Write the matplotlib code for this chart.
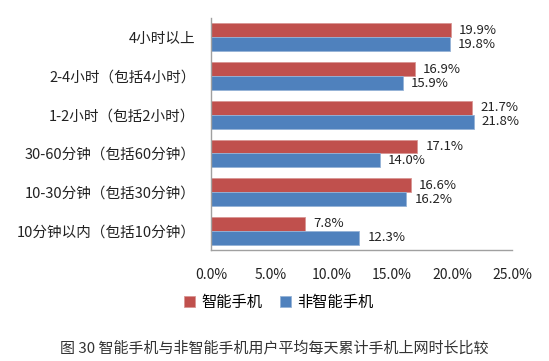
import numpy as np
import matplotlib.pyplot as plt

plt.rcParams['font.family'] = ['Noto Sans CJK SC', 'DejaVu Sans']

categories = ['4小时以上', '2-4小时（包括4小时）', '1-2小时（包括2小时）',
              '30-60分钟（包括60分钟）', '10-30分钟（包括30分钟）', '10分钟以内（包括10分钟）']
smart = [19.9, 16.9, 21.7, 17.1, 16.6, 7.8]
non_smart = [19.8, 15.9, 21.8, 14.0, 16.2, 12.3]
series_names = ['智能手机', '非智能手机']
xticks = [0, 5, 10, 15, 20, 25]

red = '#C0504D'
blue = '#4F81BD'

fig = plt.figure(figsize=(5.49, 3.61), dpi=100)
ax = fig.add_axes([0.384, 0.307, 0.549, 0.643])

y = np.arange(len(categories))
h = 0.36
b1 = ax.barh(y - h / 2, smart, height=h, color=red, edgecolor='#D99694', linewidth=0.6, label=series_names[0])
b2 = ax.barh(y + h / 2, non_smart, height=h, color=blue, edgecolor='#95B3D7', linewidth=0.6, label=series_names[1])

for bars, vals in ((b1, smart), (b2, non_smart)):
    for bar, v in zip(bars, vals):
        ax.annotate(f'{v:.1f}%', (v, bar.get_y() + bar.get_height() / 2),
                    xytext=(6, 0), textcoords='offset points',
                    va='center', ha='left', fontsize=9.5, color='#222222')

ax.set_ylim(len(categories) - 0.5, -0.5)
ax.set_xlim(0, 25)
ax.set_yticks(y)
ax.set_yticklabels(categories, fontsize=10.5, color='#222222')
ax.set_xticks(xticks)
ax.set_xticklabels([f'{t:.1f}%' for t in xticks], fontsize=10, color='#222222')
ax.tick_params(axis='both', length=0)
ax.tick_params(axis='x', pad=13)
ax.tick_params(axis='y', pad=11)

for s in ('top', 'right'):
    ax.spines[s].set_visible(False)
for s in ('left', 'bottom'):
    ax.spines[s].set_color('#A0A0A0')
    ax.spines[s].set_linewidth(1)

fig.legend(handles=[b1, b2], loc='center', bbox_to_anchor=(0.508, 0.163), ncol=2,
           frameon=False, fontsize=11, handlelength=0.7, handleheight=0.7,
           handletextpad=0.4, columnspacing=1.2)

fig.text(0.5, 0.036, '图 30 智能手机与非智能手机用户平均每天累计手机上网时长比较',
         ha='center', va='center', fontsize=10.8, color='#333333')

fig.savefig('out.png', dpi=100)
